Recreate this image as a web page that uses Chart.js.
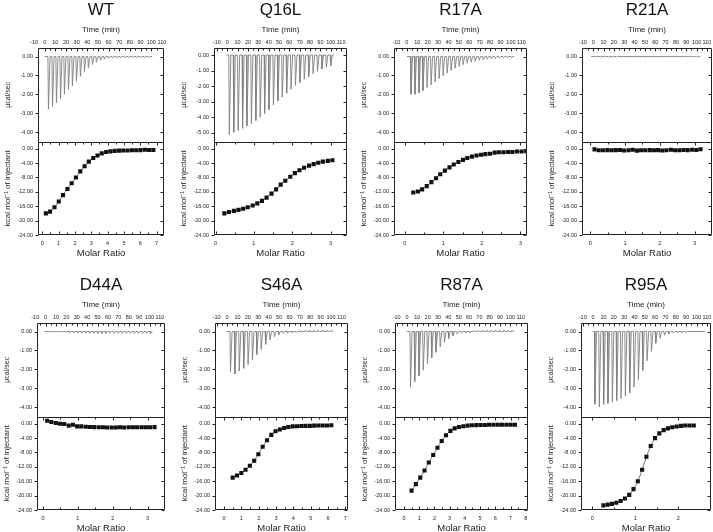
<!DOCTYPE html>
<html>
<head>
<meta charset="utf-8">
<script src="https://cdn.jsdelivr.net/npm/chart.js@4.4.1/dist/chart.umd.min.js"></script>
<style>
  html, body { margin: 0; padding: 0; background: #fff; width: 713px; height: 532px; overflow: hidden; }
  canvas { position: absolute; }
</style>
</head>
<body>
<script>
// tick labels
const timeTicks = [-10, 0, 10, 20, 30, 40, 50, 60, 70, 80, 90, 100, 110];
const ucalTicks = [0, -1, -2, -3, -4];
const ucalTicksQ16 = [0, -1, -2, -3, -4, -5];
const kcalTicks = [0, -4, -8, -12, -16, -20, -24];
const ratioTicks2 = [0, 1, 2];
const ratioTicks3 = [0, 1, 2, 3];
const ratioTicks7 = [0, 1, 2, 3, 4, 5, 6, 7];
const ratioTicks8 = [0, 1, 2, 3, 4, 5, 6, 7, 8];

// WT
const wtSpan = [0, 101];
const wtTime = [3, 6.8, 10.5, 14.3, 18, 21.8, 25.5, 29.3, 33, 36.8, 40.5, 44.3, 48, 51.8, 55.5, 59.3, 63, 66.8, 70.5, 74.3, 78, 81.8, 85.5, 89.3, 93, 96.8];
const wtPeak = [-2.8, -2.65, -2.45, -2.25, -2.0, -1.75, -1.55, -1.3, -1.05, -0.8, -0.6, -0.42, -0.3, -0.2, -0.14, -0.1, -0.08, -0.07, -0.06, -0.06, -0.05, -0.05, -0.05, -0.05, -0.05, -0.05];
const wtRatio = [0.22, 0.48, 0.75, 1.01, 1.27, 1.54, 1.80, 2.06, 2.33, 2.59, 2.85, 3.12, 3.38, 3.64, 3.91, 4.17, 4.43, 4.70, 4.96, 5.22, 5.49, 5.75, 6.01, 6.28, 6.54, 6.80];
const wtHeat = [-18.0, -17.5, -16.3, -14.7, -12.9, -11.2, -9.6, -8.0, -6.3, -4.9, -3.6, -2.6, -1.9, -1.3, -0.9, -0.75, -0.6, -0.55, -0.5, -0.5, -0.45, -0.45, -0.4, -0.3, -0.35, -0.35];

// Q16L
const q16Span = [-1, 103];
const q16Time = [1.5, 5.8, 10, 14.3, 18.5, 22.8, 27.1, 31.3, 35.6, 39.8, 44.1, 48.4, 52.6, 56.9, 61.1, 65.4, 69.7, 73.9, 78.2, 82.4, 86.7, 91, 95.2, 99.5];
const q16Peak = [-5.1, -4.95, -4.85, -4.7, -4.55, -4.4, -4.2, -4.0, -3.75, -3.5, -3.2, -2.95, -2.7, -2.45, -2.2, -1.95, -1.75, -1.55, -1.38, -1.2, -1.05, -0.9, -0.78, -0.68];
const q16Ratio = [0.23, 0.35, 0.48, 0.60, 0.72, 0.84, 0.97, 1.09, 1.21, 1.33, 1.46, 1.58, 1.70, 1.82, 1.95, 2.07, 2.19, 2.31, 2.44, 2.56, 2.68, 2.80, 2.93, 3.05];
const q16Heat = [-18.0, -17.6, -17.3, -17.0, -16.7, -16.3, -15.8, -15.2, -14.5, -13.6, -12.5, -11.3, -10.0, -8.9, -7.8, -6.8, -6.0, -5.3, -4.7, -4.3, -3.9, -3.6, -3.4, -3.2];

// R17A
const r17Span = [0, 103];
const r17Time = [3.5, 7.3, 11.2, 15, 18.9, 22.8, 26.6, 30.5, 34.3, 38.2, 42, 45.9, 49.7, 53.6, 57.4, 61.3, 65.1, 69, 72.8, 76.7, 80.5, 84.4, 88.2, 92.1, 95.9, 99.8];
const r17Peak = [-2.0, -2.0, -1.92, -1.8, -1.65, -1.5, -1.35, -1.18, -1.02, -0.87, -0.74, -0.62, -0.52, -0.43, -0.36, -0.3, -0.25, -0.2, -0.17, -0.14, -0.12, -0.1, -0.08, -0.07, -0.06, -0.05];
const r17Ratio = [0.22, 0.34, 0.45, 0.57, 0.69, 0.81, 0.92, 1.04, 1.16, 1.27, 1.39, 1.51, 1.62, 1.74, 1.86, 1.98, 2.09, 2.21, 2.33, 2.44, 2.56, 2.68, 2.79, 2.91, 3.03, 3.15];
const r17Heat = [-12.2, -11.9, -11.3, -10.4, -9.3, -8.2, -7.1, -6.1, -5.2, -4.4, -3.7, -3.1, -2.6, -2.2, -1.9, -1.7, -1.5, -1.4, -1.1, -1.0, -1.0, -0.9, -0.9, -0.8, -0.8, -0.7];

// R21A
const r21Span = [-2, 103.5];
const r21Time = [2.5, 6.4, 10.3, 14.2, 18.1, 22, 25.9, 29.8, 33.7, 37.6, 41.5, 45.4, 49.3, 53.2, 57.1, 61, 64.9, 68.8, 72.7, 76.6, 80.5, 84.4, 88.3, 92.2, 96.1, 100];
const r21Peak = [-0.03, -0.03, -0.03, -0.03, -0.03, -0.03, -0.03, -0.03, -0.03, -0.03, -0.03, -0.03, -0.03, -0.03, -0.03, -0.03, -0.03, -0.03, -0.03, -0.03, -0.03, -0.03, -0.03, -0.03, -0.03, -0.03];
const r21Ratio = [0.12, 0.24, 0.36, 0.49, 0.61, 0.73, 0.85, 0.97, 1.10, 1.22, 1.34, 1.46, 1.58, 1.71, 1.83, 1.95, 2.07, 2.19, 2.32, 2.44, 2.56, 2.68, 2.80, 2.93, 3.05, 3.17];
const r21Heat = [-0.2, -0.45, -0.45, -0.4, -0.45, -0.4, -0.35, -0.5, -0.45, -0.3, -0.55, -0.45, -0.45, -0.4, -0.45, -0.4, -0.5, -0.45, -0.3, -0.45, -0.45, -0.35, -0.4, -0.3, -0.35, -0.15];

// D44A
const d44Span = [-1, 102];
const d44Time = [3, 6.9, 10.8, 14.7, 18.6, 22.5, 26.4, 30.3, 34.2, 38.1, 42, 45.9, 49.8, 53.7, 57.6, 61.5, 65.4, 69.3, 73.2, 77.1, 81, 84.9, 88.8, 92.7, 96.6, 100.5];
const d44Peak = [-0.02, -0.02, -0.03, -0.03, -0.04, -0.05, -0.06, -0.07, -0.08, -0.08, -0.09, -0.09, -0.1, -0.1, -0.1, -0.1, -0.1, -0.1, -0.1, -0.1, -0.1, -0.1, -0.1, -0.1, -0.1, -0.1];
const d44Ratio = [0.12, 0.24, 0.37, 0.49, 0.61, 0.74, 0.86, 0.98, 1.10, 1.23, 1.35, 1.47, 1.60, 1.72, 1.84, 1.97, 2.09, 2.21, 2.33, 2.46, 2.58, 2.70, 2.83, 2.95, 3.07, 3.20];
const d44Heat = [0.8, 0.45, 0.2, 0.0, -0.1, -0.55, -0.3, -0.75, -0.75, -0.85, -0.9, -0.95, -1.0, -1.0, -1.05, -1.05, -1.05, -1.0, -1.05, -1.0, -1.0, -1.0, -1.0, -1.0, -1.0, -0.95];

// S46A
const s46Span = [-0.4, 101.5];
const s46Time = [2.8, 7, 11.2, 15.5, 19.7, 23.9, 28.1, 32.3, 36.6, 40.8, 45, 49.2, 53.4, 57.7, 61.9, 66.1, 70.3, 74.5, 78.8, 83, 87.2, 91.4, 95.6, 99.9];
const s46Peak = [-2.15, -2.25, -2.1, -1.95, -1.75, -1.5, -1.22, -0.95, -0.68, -0.45, -0.28, -0.17, -0.1, -0.07, -0.05, -0.04, 0.05, 0.06, 0.06, 0.07, 0.07, 0.07, 0.07, 0.07];
const s46Ratio = [0.50, 0.75, 1.00, 1.24, 1.49, 1.74, 1.98, 2.23, 2.48, 2.73, 2.97, 3.22, 3.47, 3.71, 3.96, 4.21, 4.46, 4.70, 4.95, 5.20, 5.44, 5.69, 5.94, 6.19];
const s46Heat = [-15.0, -14.4, -13.7, -12.8, -11.7, -10.3, -8.5, -6.4, -4.6, -3.1, -2.1, -1.6, -1.2, -0.9, -0.75, -0.7, -0.65, -0.6, -0.6, -0.55, -0.5, -0.5, -0.5, -0.45];

// R87A
const r87Span = [0, 103.6];
const r87Time = [2.9, 7, 11.1, 15.2, 19.3, 23.4, 27.5, 31.6, 35.7, 39.8, 43.9, 48, 52.1, 56.2, 60.3, 64.4, 68.5, 72.6, 76.7, 80.8, 84.9, 89, 93.1, 97.2, 101.3];
const r87Peak = [-2.95, -2.65, -2.35, -2.05, -1.72, -1.4, -1.1, -0.82, -0.57, -0.37, -0.22, -0.13, -0.08, -0.06, -0.05, 0.05, 0.06, 0.06, 0.07, 0.07, 0.07, 0.07, 0.07, 0.07, 0.07];
const r87Ratio = [0.50, 0.78, 1.07, 1.35, 1.63, 1.92, 2.20, 2.48, 2.76, 3.05, 3.33, 3.61, 3.90, 4.18, 4.46, 4.75, 5.03, 5.31, 5.59, 5.88, 6.16, 6.44, 6.73, 7.01, 7.29];
const r87Heat = [-18.6, -16.8, -15.0, -13.0, -10.8, -8.7, -6.7, -4.8, -3.2, -2.0, -1.3, -0.9, -0.7, -0.55, -0.45, -0.4, -0.35, -0.35, -0.3, -0.3, -0.3, -0.3, -0.3, -0.3, -0.3];

// R95A
const r95Span = [-0.5, 108];
const r95Time = [1.3, 5.5, 9.7, 13.9, 18.1, 22.3, 26.5, 30.7, 34.9, 39.1, 43.3, 47.5, 51.7, 55.9, 60.1, 64.3, 68.5, 72.7, 76.9, 81.1, 85.3, 89.5];
const r95Peak = [-3.85, -4.0, -3.85, -3.8, -3.72, -3.65, -3.55, -3.42, -3.25, -2.95, -2.55, -2.05, -1.55, -1.05, -0.62, -0.35, -0.2, -0.12, -0.08, -0.06, -0.05, -0.05];
const r95Ratio = [0.26, 0.36, 0.46, 0.56, 0.66, 0.76, 0.86, 0.96, 1.06, 1.16, 1.26, 1.36, 1.46, 1.56, 1.66, 1.76, 1.86, 1.96, 2.06, 2.16, 2.26, 2.36];
const r95Heat = [-22.7, -22.5, -22.3, -22.0, -21.5, -20.8, -19.8, -18.2, -16.0, -12.8, -9.2, -6.2, -4.0, -2.7, -1.8, -1.3, -1.0, -0.8, -0.6, -0.5, -0.5, -0.5];

// layout of the eight panels (plot box edges in page pixels and axis ranges)
const panels = [
  { name: 'WT',   left: 38,  right: 164, top: 0,   span: wtSpan,  time: wtTime,  peak: wtPeak,  ratio: wtRatio,  heat: wtHeat,  tr: [-6.3, 112],   rr: [-0.26, 7.45], rt: ratioTicks7, ur: [-4.5, 0.45],  ut: ucalTicks },
  { name: 'Q16L', left: 214, right: 347, top: 0,   span: q16Span, time: q16Time, peak: q16Peak, ratio: q16Ratio, heat: q16Heat, tr: [-12.8, 115.7], rr: [-0.04, 3.43], rt: ratioTicks3, ur: [-5.55, 0.45], ut: ucalTicksQ16 },
  { name: 'R17A', left: 394, right: 527, top: 0,   span: r17Span, time: r17Time, peak: r17Peak, ratio: r17Ratio, heat: r17Heat, tr: [-12.3, 115.4], rr: [-0.28, 3.17], rt: ratioTicks3, ur: [-4.5, 0.45],  ut: ucalTicks },
  { name: 'R21A', left: 582, right: 712, top: 0,   span: r21Span, time: r21Time, peak: r21Peak, ratio: r21Ratio, heat: r21Heat, tr: [-10.9, 114.9], rr: [-0.24, 3.5],  rt: ratioTicks3, ur: [-4.5, 0.45],  ut: ucalTicks },
  { name: 'D44A', left: 37,  right: 165, top: 275, span: d44Span, time: d44Time, peak: d44Peak, ratio: d44Ratio, heat: d44Heat, tr: [-8.3, 114.9],  rr: [-0.17, 3.5],  rt: ratioTicks3, ur: [-4.5, 0.45],  ut: ucalTicks },
  { name: 'S46A', left: 215, right: 348, top: 275, span: s46Span, time: s46Time, peak: s46Peak, ratio: s46Ratio, heat: s46Heat, tr: [-11.6, 116.3], rr: [-0.52, 7.15], rt: ratioTicks7, ur: [-4.5, 0.45],  ut: ucalTicks },
  { name: 'R87A', left: 395, right: 528, top: 275, span: r87Span, time: r87Time, peak: r87Peak, ratio: r87Ratio, heat: r87Heat, tr: [-11.6, 117],   rr: [-0.59, 8.15], rt: ratioTicks8, ur: [-4.5, 0.45],  ut: ucalTicks },
  { name: 'R95A', left: 581, right: 711, top: 275, span: r95Span, time: r95Time, peak: r95Peak, ratio: r95Ratio, heat: r95Heat, tr: [-11.7, 114],   rr: [-0.26, 2.76], rt: ratioTicks2, ur: [-4.5, 0.45],  ut: ucalTicks }
];

const FONT = "'Liberation Sans', Arial, sans-serif";
Chart.defaults.font.family = FONT;
Chart.defaults.color = '#222';

const AXW = 38;     // width kept for the left axes
const PADR = 10;
const HEIGHT = 259;

// box outline, divider and the small inward ticks
const frame = {
  id: 'frame',
  afterDraw(chart) {
    const { ctx, chartArea: a, scales: s } = chart;
    const px = v => Math.round(v) + 0.5;
    const L = px(a.left), R = px(a.right - 1), T = px(a.top), B = px(a.bottom - 1);
    const mid = px(s.ucal.bottom);
    ctx.save();
    ctx.strokeStyle = '#222';
    ctx.lineWidth = 1;
    ctx.beginPath();
    ctx.rect(L, T, R - L, B - T);
    ctx.moveTo(L, mid); ctx.lineTo(R, mid);
    const marks = (scale, fn) => {
      const v = scale.ticks.map(t => t.value);
      v.forEach((t, i) => {
        fn(px(scale.getPixelForValue(t)), 3);
        if (i < v.length - 1) fn(px(scale.getPixelForValue((t + v[i + 1]) / 2)), 2);
      });
    };
    const inX = x => x > L + 1 && x < R - 1;
    marks(s.time, (x, l) => { if (inX(x)) { ctx.moveTo(x, T); ctx.lineTo(x, T + l); } });
    marks(s.ratio, (x, l) => {
      if (inX(x)) { ctx.moveTo(x, B); ctx.lineTo(x, B - l); ctx.moveTo(x, mid); ctx.lineTo(x, mid + l); }
    });
    [s.ucal, s.kcal].forEach(sc => {
      sc.ticks.forEach(t => {
        const y = px(sc.getPixelForValue(t.value));
        if (y > sc.top + 1 && y < sc.bottom + 1) {
          ctx.moveTo(L, y); ctx.lineTo(L - 3, y);
          ctx.moveTo(R, y); ctx.lineTo(R - 3, y);
        }
      });
    });
    ctx.stroke();
    ctx.restore();
  }
};

function rawTrace(p) {
  const pts = [{ x: p.span[0], y: 0 }];
  p.time.forEach((t, i) => {
    pts.push({ x: t, y: 0 }, { x: t + 0.5, y: p.peak[i] }, { x: t + 2, y: 0 });
  });
  pts.push({ x: p.span[1], y: 0 });
  return pts;
}

const setTicks = list => scale => { scale.ticks = list.map(v => ({ value: v })); };
const tickFont = { size: 5.5 };

panels.forEach(p => {
  const cv = document.createElement('canvas');
  const w = AXW + (p.right - p.left) + PADR;
  cv.width = w;
  cv.height = HEIGHT;
  cv.style.left = (p.left - AXW) + 'px';
  cv.style.top = p.top + 'px';
  document.body.appendChild(cv);

  new Chart(cv, {
    type: 'scatter',
    data: {
      datasets: [
        {
          data: rawTrace(p),
          xAxisID: 'time', yAxisID: 'ucal',
          showLine: true, pointRadius: 0,
          borderColor: '#808080', borderWidth: 0.9
        },
        {
          data: p.ratio.map((x, i) => ({ x: x, y: p.heat[i] })),
          xAxisID: 'ratio', yAxisID: 'kcal',
          showLine: true, tension: 0.35,
          borderColor: '#555', borderWidth: 0.8,
          pointStyle: 'rect', pointRadius: 2.9, pointBorderWidth: 0,
          pointBackgroundColor: '#111', pointBorderColor: '#111'
        }
      ]
    },
    options: {
      responsive: false,
      animation: false,
      devicePixelRatio: 1,
      events: [],
      layout: { padding: { left: 0, right: PADR, top: 0, bottom: 0 } },
      plugins: {
        legend: { display: false },
        tooltip: { enabled: false },
        title: {
          display: true, text: p.name, fullSize: false, color: '#111',
          font: { size: 17, weight: 'normal', lineHeight: 1.2 },
          padding: { top: 0, bottom: 0 }
        }
      },
      scales: {
        kcal: {
          type: 'linear', position: 'left', stack: 'left', stackWeight: 1,
          min: -24, max: 2,
          afterBuildTicks: setTicks(kcalTicks),
          afterFit: s => { s.width = AXW; },
          grid: { display: false, drawTicks: false },
          border: { display: false },
          ticks: { font: tickFont, padding: 5, callback: v => v.toFixed(2) },
          title: { display: true, text: 'kcal mol⁻¹ of injectant', font: { size: 8 }, padding: { top: 3.2, bottom: 0 } }
        },
        ucal: {
          type: 'linear', position: 'left', stack: 'left', stackWeight: 1,
          min: p.ur[0], max: p.ur[1],
          afterBuildTicks: setTicks(p.ut),
          afterFit: s => { s.width = AXW; },
          grid: { display: false, drawTicks: false },
          border: { display: false },
          ticks: { font: tickFont, padding: 5, callback: v => v.toFixed(2) },
          title: { display: true, text: 'µcal/sec', font: { size: 7 }, padding: { top: 3.8, bottom: 0 } }
        },
        time: {
          type: 'linear', position: 'top',
          min: p.tr[0], max: p.tr[1],
          afterBuildTicks: setTicks(timeTicks),
          afterFit: s => { s.height = 27.6; },
          grid: { display: false, drawTicks: false },
          border: { display: false },
          ticks: { font: tickFont, padding: 2.7, autoSkip: false, autoSkipPadding: -8, maxTicksLimit: 30, maxRotation: 0 },
          title: { display: true, text: 'Time (min)', font: { size: 8 }, padding: { top: 4.3, bottom: 0 } }
        },
        ratio: {
          type: 'linear', position: 'bottom',
          min: p.rr[0], max: p.rr[1],
          afterBuildTicks: setTicks(p.rt),
          afterFit: s => { s.height = 24; },
          grid: { display: false, drawTicks: false },
          border: { display: false },
          ticks: { font: tickFont, padding: 4.7, autoSkip: false, maxTicksLimit: 30, maxRotation: 0 },
          title: { display: true, text: 'Molar Ratio', font: { size: 9.5 }, padding: { top: 0, bottom: 0 } }
        }
      }
    },
    plugins: [frame]
  });
});
</script>
</body>
</html>
